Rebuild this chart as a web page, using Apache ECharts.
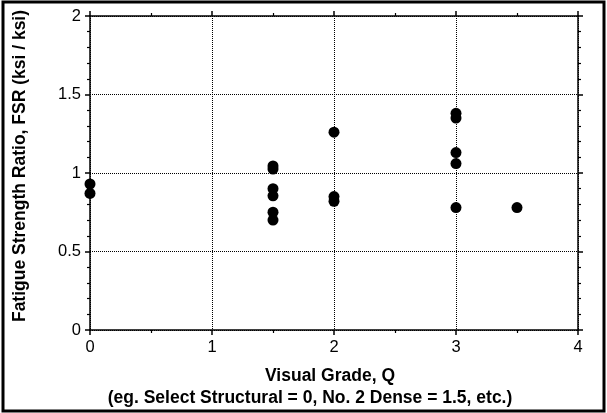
<!DOCTYPE html>
<html><head><meta charset="utf-8">
<script src="https://cdn.jsdelivr.net/npm/echarts@6/dist/echarts.min.js"></script>
<style>html,body{margin:0;padding:0;background:#fff}#c{width:607px;height:413px}</style>
</head><body><div id="c"></div>
<script>
// Visual grade Q and fatigue strength ratio FSR
var gradeQ = [0, 0, 1.5, 1.5, 1.5, 1.5, 1.5, 1.5, 2, 2, 2, 3, 3, 3, 3, 3, 3.5];
var fsr    = [0.93, 0.87, 1.045, 1.025, 0.90, 0.855, 0.75, 0.70, 1.26, 0.85, 0.82, 1.38, 1.35, 1.13, 1.06, 0.78, 0.78];
var xTicks = [0, 1, 2, 3, 4];
var yTicks = [0, 0.5, 1, 1.5, 2];
var xTitle1 = 'Visual Grade, Q';
var xTitle2 = '(eg. Select Structural = 0, No. 2 Dense = 1.5, etc.)';
var yTitle = 'Fatigue Strength Ratio, FSR (ksi / ksi)';

var points = gradeQ.map(function (q, i) { return [q, fsr[i]]; });
var FONT = 'Liberation Sans, Arial, sans-serif';
var chart = echarts.init(document.getElementById('c'), null, {renderer: 'canvas'});

function axisBase(pos, showLabel, isX) {
  return {
    type: 'value', position: pos,
    min: isX ? xTicks[0] : yTicks[0],
    max: isX ? xTicks[xTicks.length - 1] : yTicks[yTicks.length - 1],
    interval: isX ? 1 : 0.5,
    axisLine: {show: true, onZero: false, lineStyle: {color: '#000', width: 1.5}},
    axisTick: {show: true, inside: false, length: 5, lineStyle: {color: '#000', width: 1.5}},
    minorTick: {show: true, splitNumber: isX ? 2 : 5, length: 3, lineStyle: {color: '#000', width: 1.2}},
    splitLine: {show: showLabel, lineStyle: {color: '#000', type: [1, 1], width: 1}},
    axisLabel: {show: showLabel, color: '#000', fontSize: 16.5, fontFamily: FONT, margin: 9,
      formatter: function (v) { return String(v); }}
  };
}

chart.setOption({
  animation: false,
  grid: {left: 90, right: 29, top: 16, bottom: 83, containLabel: false},
  xAxis: [axisBase('bottom', true, true), axisBase('top', false, true)],
  yAxis: [axisBase('left', true, false), axisBase('right', false, false)],
  series: [{
    type: 'scatter', xAxisIndex: 0, yAxisIndex: 0,
    data: points, symbol: 'circle', symbolSize: 11,
    itemStyle: {color: '#000', opacity: 1}
  }],
  graphic: [
    {type: 'rect', shape: {x: 3, y: 2, width: 601, height: 409}, style: {fill: 'none', stroke: '#000', lineWidth: 3}, z: 100},
    {type: 'text', x: 330, y: 376, style: {text: xTitle1, fontFamily: FONT, fontWeight: 'bold', fontSize: 17.5, fill: '#000', textAlign: 'center', textVerticalAlign: 'middle'}},
    {type: 'text', x: 310, y: 398, style: {text: xTitle2, fontFamily: FONT, fontWeight: 'bold', fontSize: 17.5, fill: '#000', textAlign: 'center', textVerticalAlign: 'middle'}},
    {type: 'text', x: 20, y: 166, rotation: Math.PI / 2, style: {text: yTitle, fontFamily: FONT, fontWeight: 'bold', fontSize: 17.5, fill: '#000', textAlign: 'center', textVerticalAlign: 'middle'}}
  ]
});
</script></body></html>
